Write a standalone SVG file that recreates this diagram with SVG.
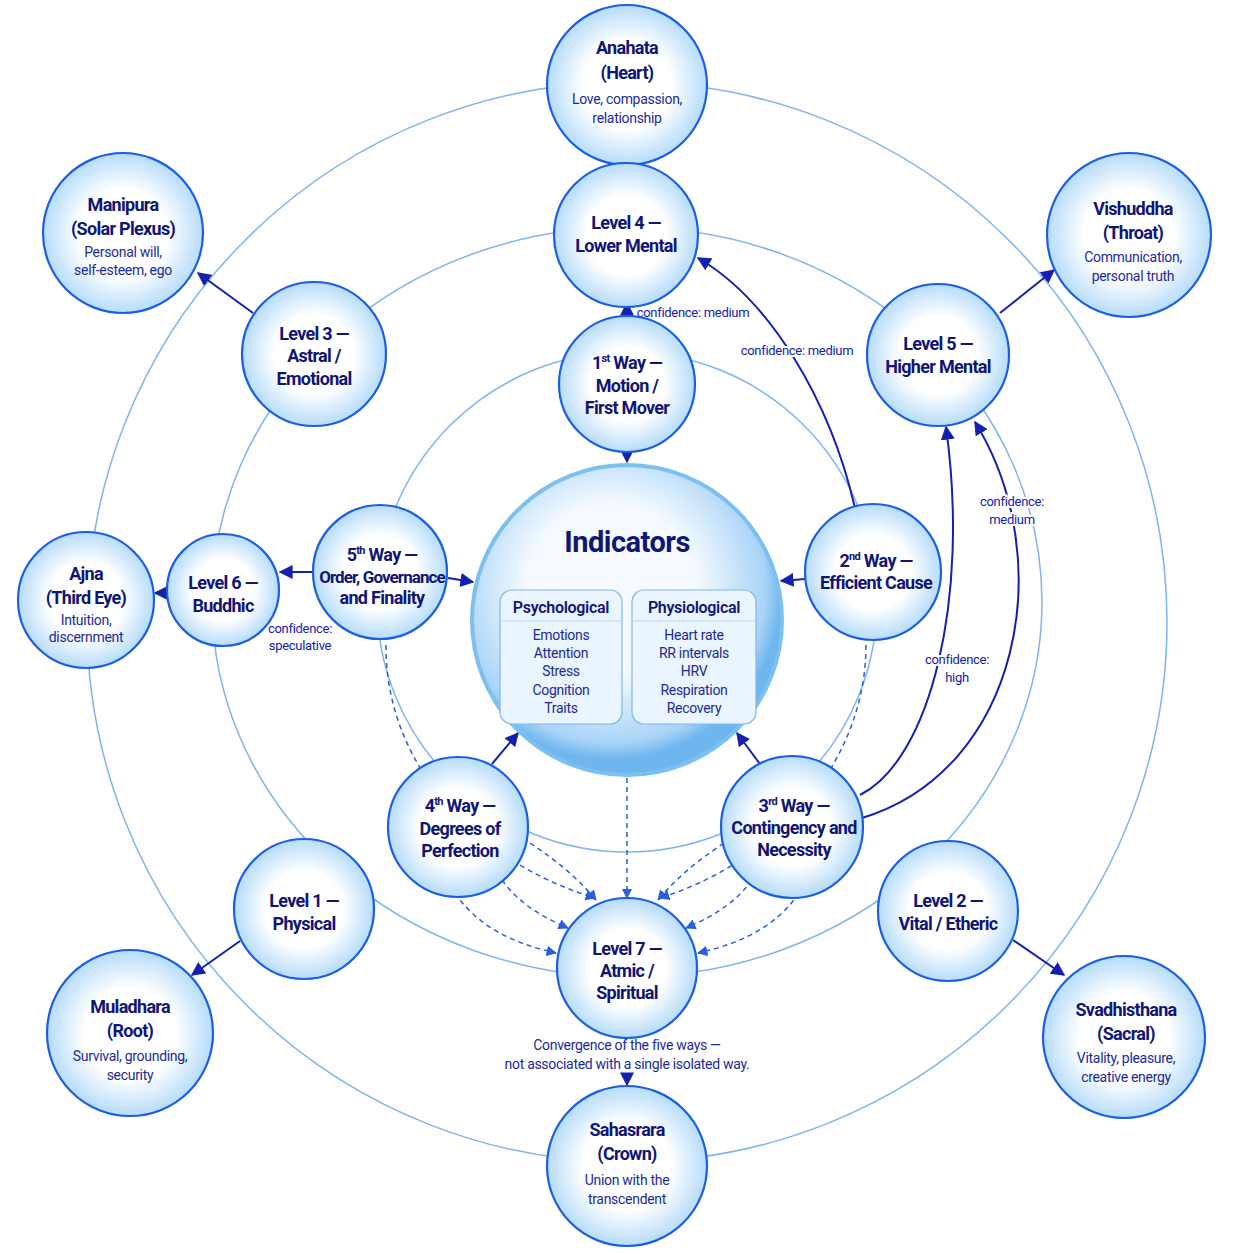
<svg xmlns="http://www.w3.org/2000/svg" width="1254" height="1254" viewBox="0 0 1254 1254">
<style>
text{font-family:Roboto,"Liberation Sans",sans-serif;fill:#0f1577;text-anchor:middle}
.t{font-weight:700;font-size:18px;letter-spacing:-0.7px}
.s{font-size:14px;fill:#1a2a9a;letter-spacing:-0.3px}
.n{fill:url(#g);stroke:#1a5ee8;stroke-width:2.2}
.ring{fill:none;stroke:#7fb4f0;stroke-width:1.5}
.c{fill:none;stroke:#1420b0;stroke-width:2}
.d{fill:none;stroke:#2a5ee0;stroke-width:1.5;stroke-dasharray:5 4}
.lbl{font-size:13px;fill:#1420b0;letter-spacing:-0.3px;paint-order:stroke;stroke:#fff;stroke-width:4px}
</style>
<defs>
<radialGradient id="g" cx="50%" cy="50%" r="50%"><stop offset="55%" stop-color="#ffffff"/><stop offset="100%" stop-color="#b6dcfa"/></radialGradient>
<radialGradient id="gi" cx="45%" cy="40%" r="55%"><stop offset="50%" stop-color="#f4faff"/><stop offset="90%" stop-color="#a9d4f7"/><stop offset="100%" stop-color="#6fb6ee"/></radialGradient>
<marker id="a" viewBox="0 0 10 10" refX="9" refY="5" markerWidth="7" markerHeight="7" orient="auto-start-reverse"><path d="M0,0L10,5L0,10z" fill="#1420b0"/></marker>
<marker id="ad" viewBox="0 0 10 10" refX="9" refY="5" markerWidth="7" markerHeight="7" orient="auto"><path d="M0,0L10,5L0,10z" fill="#2a5ee0"/></marker>
</defs>
<rect width="1254" height="1254" fill="#fff"/>
<g id="rings">
<circle class="ring" cx="627" cy="622" r="540"/>
<ellipse class="ring" cx="627" cy="602" rx="415" ry="375"/>
<circle class="ring" cx="627" cy="602" r="250"/>
</g>
<g id="connectors">
<path class="c" d="M627,168 L627,160" marker-end="url(#a)" marker-start="url(#a)"/>
<path class="c" d="M627,322 L627,303" marker-end="url(#a)"/>
<path class="c" d="M627,448 L627,462" marker-end="url(#a)"/>
<path class="c" d="M855,508 C830,400 770,300 698,258" marker-end="url(#a)"/>
<path class="c" d="M805,579 L781,581" marker-end="url(#a)"/>
<path class="c" d="M448,578 L473,582" marker-end="url(#a)"/>
<path class="c" d="M313,572 L280,572" marker-end="url(#a)"/>
<path class="c" d="M167,593 L155,593" marker-end="url(#a)"/>
<path class="c" d="M492,764 L518,733" marker-end="url(#a)"/>
<path class="c" d="M760,764 L737,733" marker-end="url(#a)"/>
<path class="c" d="M860,795 C930,760 970,600 946,427" marker-end="url(#a)"/>
<path class="c" d="M862,818 C1020,770 1060,560 975,422" marker-end="url(#a)"/>
<path class="c" d="M253,313 L198,273" marker-end="url(#a)"/>
<path class="c" d="M1000,313 L1054,270" marker-end="url(#a)"/>
<path class="c" d="M240,941 L192,975" marker-end="url(#a)"/>
<path class="c" d="M1013,940 L1064,975" marker-end="url(#a)"/>
<path class="c" d="M627,1073 L627,1085" marker-end="url(#a)"/>
<path class="d" d="M386,645 C385,760 470,860 595,898" marker-end="url(#ad)"/>
<path class="d" d="M866,645 C866,760 780,860 660,898" marker-end="url(#ad)"/>
<path class="d" d="M627,778 L627,898" marker-end="url(#ad)"/>
<path class="d" d="M530,843 C555,860 575,875 596,900" marker-end="url(#ad)"/>
<path class="d" d="M502,880 C520,905 545,918 568,928" marker-end="url(#ad)"/>
<path class="d" d="M455,893 C480,930 520,945 556,953" marker-end="url(#ad)"/>
<path class="d" d="M724,843 C699,860 679,875 658,900" marker-end="url(#ad)"/>
<path class="d" d="M752,880 C734,905 709,918 686,928" marker-end="url(#ad)"/>
<path class="d" d="M799,893 C774,930 734,945 698,953" marker-end="url(#ad)"/>
<text class="lbl" x="693" y="317">confidence: medium</text>
<text class="lbl" x="797" y="355">confidence: medium</text>
<text class="lbl" x="1012" y="506">confidence:</text>
<text class="lbl" x="1012" y="524">medium</text>
<text class="lbl" x="957" y="664">confidence:</text>
<text class="lbl" x="957" y="682">high</text>
<text class="lbl" x="300" y="633">confidence:</text>
<text class="lbl" x="300" y="650">speculative</text>
<text class="s" x="627" y="1050">Convergence of the five ways —</text>
<text class="s" x="627" y="1069">not associated with a single isolated way.</text>
</g>
<g id="indicators">
<circle cx="627" cy="620" r="155" fill="url(#gi)" stroke="#7cc0f2" stroke-width="4"/>
<text x="627" y="552" style="font-weight:700;font-size:29px;letter-spacing:-0.5px">Indicators</text>
<rect x="500" y="590" width="122" height="134" rx="12" fill="#eaf5ff" stroke="#7cb8ef" stroke-width="1.2"/>
<rect x="632" y="590" width="124" height="134" rx="12" fill="#eaf5ff" stroke="#7cb8ef" stroke-width="1.2"/>
<path d="M500,621 h122 M632,621 h124" stroke="#b6d8f6"/>
<text class="s" x="561" y="613" style="font-weight:600;font-size:16px;fill:#0f1577">Psychological</text>
<text class="s" x="694" y="613" style="font-weight:600;font-size:16px;fill:#0f1577">Physiological</text>
<text class="s" x="561" y="640">Emotions</text><text class="s" x="561" y="658">Attention</text><text class="s" x="561" y="676">Stress</text><text class="s" x="561" y="695">Cognition</text><text class="s" x="561" y="713">Traits</text>
<text class="s" x="694" y="640">Heart rate</text><text class="s" x="694" y="658">RR intervals</text><text class="s" x="694" y="676">HRV</text><text class="s" x="694" y="695">Respiration</text><text class="s" x="694" y="713">Recovery</text>
</g>
<g id="anahata"><circle class="n" cx="627" cy="85" r="80"/><text class="t" x="627" y="54">Anahata</text><text class="t" x="627" y="79">(Heart)</text><text class="s" x="627" y="104">Love, compassion,</text><text class="s" x="627" y="123">relationship</text></g>
<g id="manipura"><circle class="n" cx="123" cy="233" r="80"/><text class="t" x="123" y="211">Manipura</text><text class="t" x="123" y="235">(Solar Plexus)</text><text class="s" x="123" y="257">Personal will,</text><text class="s" x="123" y="275">self-esteem, ego</text></g>
<g id="vishuddha"><circle class="n" cx="1129" cy="235" r="82"/><text class="t" x="1133" y="215">Vishuddha</text><text class="t" x="1133" y="239">(Throat)</text><text class="s" x="1133" y="262">Communication,</text><text class="s" x="1133" y="281">personal truth</text></g>
<g id="ajna"><circle class="n" cx="86" cy="600" r="68"/><text class="t" x="86" y="580">Ajna</text><text class="t" x="86" y="604">(Third Eye)</text><text class="s" x="86" y="625">Intuition,</text><text class="s" x="86" y="642">discernment</text></g>
<g id="muladhara"><circle class="n" cx="130" cy="1033" r="83"/><text class="t" x="130" y="1013">Muladhara</text><text class="t" x="130" y="1037">(Root)</text><text class="s" x="130" y="1061">Survival, grounding,</text><text class="s" x="130" y="1080">security</text></g>
<g id="svadhisthana"><circle class="n" cx="1124" cy="1037" r="81"/><text class="t" x="1126" y="1016">Svadhisthana</text><text class="t" x="1126" y="1040">(Sacral)</text><text class="s" x="1126" y="1063">Vitality, pleasure,</text><text class="s" x="1126" y="1082">creative energy</text></g>
<g id="sahasrara"><circle class="n" cx="627" cy="1166" r="80"/><text class="t" x="627" y="1136">Sahasrara</text><text class="t" x="627" y="1160">(Crown)</text><text class="s" x="627" y="1185">Union with the</text><text class="s" x="627" y="1204">transcendent</text></g>
<g id="level4"><circle class="n" cx="626" cy="235" r="72"/><text class="t" x="626" y="229">Level 4 —</text><text class="t" x="626" y="252">Lower Mental</text></g>
<g id="level3"><circle class="n" cx="314" cy="354" r="72"/><text class="t" x="314" y="340">Level 3 —</text><text class="t" x="314" y="362">Astral /</text><text class="t" x="314" y="385">Emotional</text></g>
<g id="level5"><circle class="n" cx="938" cy="355" r="71"/><text class="t" x="938" y="350">Level 5 —</text><text class="t" x="938" y="373">Higher Mental</text></g>
<g id="level6"><circle class="n" cx="223" cy="590" r="56"/><text class="t" x="223" y="589">Level 6 —</text><text class="t" x="223" y="612">Buddhic</text></g>
<g id="level1"><circle class="n" cx="304" cy="909" r="70"/><text class="t" x="304" y="907">Level 1 —</text><text class="t" x="304" y="930">Physical</text></g>
<g id="level2"><circle class="n" cx="948" cy="911" r="70"/><text class="t" x="948" y="907">Level 2 —</text><text class="t" x="948" y="930">Vital / Etheric</text></g>
<g id="level7"><circle class="n" cx="627" cy="968" r="70"/><text class="t" x="627" y="955">Level 7 —</text><text class="t" x="627" y="977">Atmic /</text><text class="t" x="627" y="999">Spiritual</text></g>
<g id="way1"><circle class="n" cx="627" cy="384" r="68"/><text class="t" x="627" y="369">1<tspan font-size="11" dy="-7">st</tspan><tspan dy="7"> Way —</tspan></text><text class="t" x="627" y="392">Motion /</text><text class="t" x="627" y="414">First Mover</text></g>
<g id="way2"><circle class="n" cx="873" cy="572" r="68"/><text class="t" x="876" y="567">2<tspan font-size="11" dy="-7">nd</tspan><tspan dy="7"> Way —</tspan></text><text class="t" x="876" y="589">Efficient Cause</text></g>
<g id="way5"><circle class="n" cx="380" cy="572" r="67"/><text class="t" x="382" y="561">5<tspan font-size="11" dy="-7">th</tspan><tspan dy="7"> Way —</tspan></text><text class="t" x="382" y="583" style="font-size:17px;letter-spacing:-0.9px">Order, Governance</text><text class="t" x="382" y="604">and Finality</text></g>
<g id="way4"><circle class="n" cx="458" cy="827" r="70"/><text class="t" x="460" y="812">4<tspan font-size="11" dy="-7">th</tspan><tspan dy="7"> Way —</tspan></text><text class="t" x="460" y="835">Degrees of</text><text class="t" x="460" y="857">Perfection</text></g>
<g id="way3"><circle class="n" cx="792" cy="827" r="71"/><text class="t" x="794" y="812">3<tspan font-size="11" dy="-7">rd</tspan><tspan dy="7"> Way —</tspan></text><text class="t" x="794" y="834">Contingency and</text><text class="t" x="794" y="856">Necessity</text></g>
</svg>
